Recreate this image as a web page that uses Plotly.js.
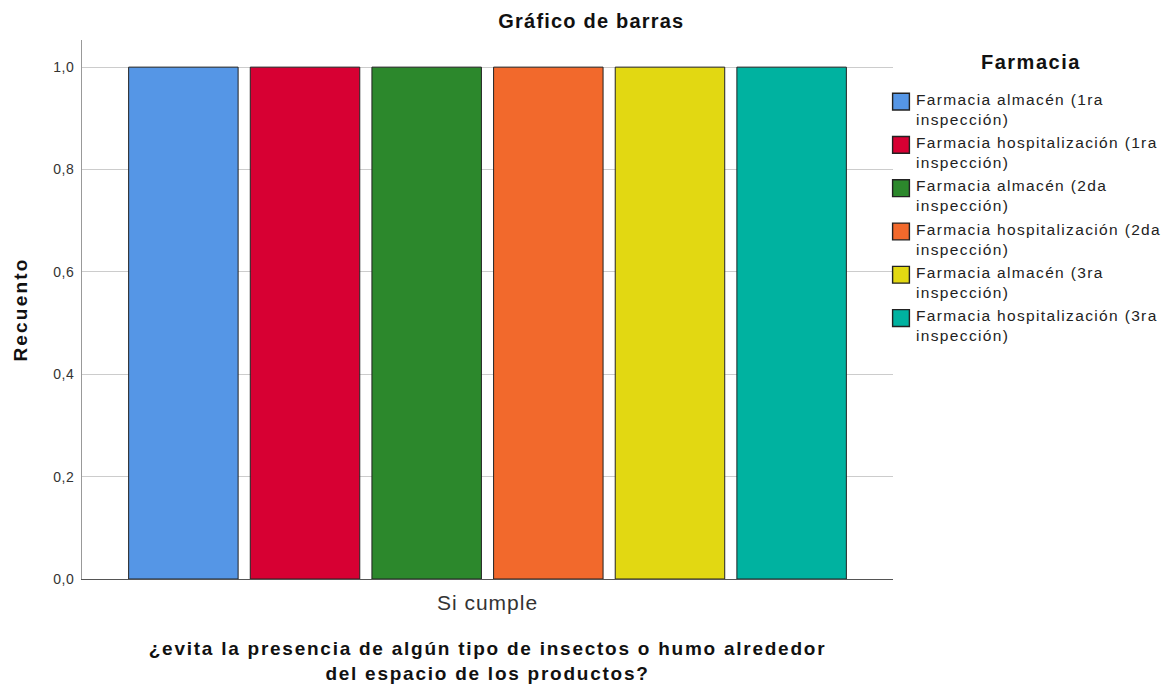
<!DOCTYPE html>
<html>
<head>
<meta charset="utf-8">
<script src="https://cdn.plot.ly/plotly-3.0.1.min.js"></script>
<style>
html,body{margin:0;padding:0;background:#fff;}
#chart{width:1171px;height:686px;}
.gtitle{letter-spacing:1.2px;}
.g-ytitle text{letter-spacing:2.2px;}
.g-xtitle text{letter-spacing:1.75px;}
.xtick text{letter-spacing:1px;}
.ytick text{letter-spacing:0.5px;}
.legendtext{letter-spacing:1.35px;}
.annotation-text{letter-spacing:1.5px;}
#chart .legendpoints path{transform:translate(25px,3px) scale(1.4);}
</style>
</head>
<body>
<div id="chart"></div>
<script>
const categories = ["Si cumple"];
const seriesNames = [
  "Farmacia almacén (1ra<br>inspección)",
  "Farmacia hospitalización (1ra<br>inspección)",
  "Farmacia almacén (2da<br>inspección)",
  "Farmacia hospitalización (2da<br>inspección)",
  "Farmacia almacén (3ra<br>inspección)",
  "Farmacia hospitalización (3ra<br>inspección)"
];
const seriesValues = [[1], [1], [1], [1], [1], [1]];
const seriesColors = ["#5596E6", "#D70033", "#2C882C", "#F2692C", "#E2D812", "#00B2A0"];
const yTicks = [0, 0.2, 0.4, 0.6, 0.8, 1.0];
const legendTitle = "Farmacia";

const FONT = "Arial, 'Liberation Sans', sans-serif";
const traces = seriesNames.map((n, i) => ({
  type: "bar",
  name: n,
  x: categories,
  y: seriesValues[i],
  marker: {color: seriesColors[i], line: {color: "#222", width: 1}},
  hoverinfo: "none"
}));

const layout = {
  width: 1171, height: 686,
  margin: {l: 82, r: 278, t: 40, b: 107, autoexpand: false},
  paper_bgcolor: "#fff", plot_bgcolor: "#fff",
  font: {family: FONT, color: "#222"},
  separators: ",.",
  barmode: "group",
  bargap: 0.10,
  bargroupgap: 0.10,
  showlegend: true,
  title: {text: "<b>Gráfico de barras</b>", font: {size: 20, color: "#111", family: FONT},
          xref: "container", x: 0.505, xanchor: "center", yref: "container", y: 0.969, yanchor: "middle"},
  xaxis: {
    type: "category", range: [-0.5, 0.5],
    showgrid: false, showline: true, linecolor: "#555", linewidth: 1,
    ticks: "", ticklabelstandoff: 5,
    tickfont: {size: 21, color: "#333", family: FONT},
    title: {text: "<b>¿evita la presencia de algún tipo de insectos o humo alrededor<br>del espacio de los productos?</b>",
            font: {size: 19, color: "#111", family: FONT}, standoff: 28},
    fixedrange: true
  },
  yaxis: {
    range: [0, 1.053], tickvals: yTicks, tickformat: ".1f",
    showgrid: true, gridcolor: "#cccccc", gridwidth: 1,
    showline: true, linecolor: "#999", linewidth: 1,
    zeroline: false,
    ticks: "", ticklabelstandoff: 4,
    tickfont: {size: 14, color: "#333", family: FONT},
    title: {text: "<b>Recuento</b>", font: {size: 19, color: "#111", family: FONT}, standoff: 20},
    fixedrange: true
  },
  legend: {
    xref: "container", x: 876 / 1171, xanchor: "left",
    yref: "container", y: 1 - 82 / 686, yanchor: "top",
    font: {size: 15.5, color: "#222", family: FONT},
    valign: "top",
    itemwidth: 30, borderwidth: 0, bgcolor: "rgba(0,0,0,0)"
  },
  annotations: [{
    text: "<b>" + legendTitle + "</b>", showarrow: false,
    xref: "paper", x: (1031 - 82) / 811, xanchor: "center",
    yref: "paper", y: 1 - (62 - 40) / 539, yanchor: "middle",
    font: {size: 20, color: "#111", family: FONT}
  }]
};

Plotly.newPlot("chart", traces, layout, {displayModeBar: false, staticPlot: true});
</script>
</body>
</html>
